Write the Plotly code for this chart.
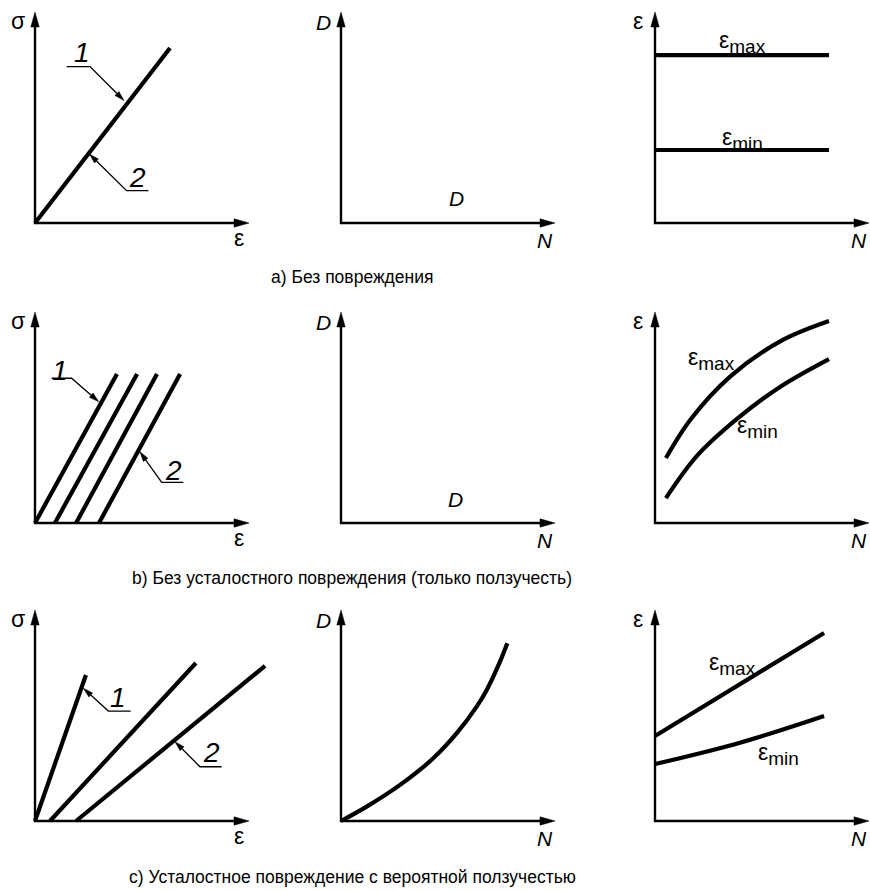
import math
import plotly.graph_objects as go

# ---------------- data (schematic units, origin = crossing of the axes) ----------------
# a) no damage
a_sigma_eps_x = [0, 6.31]
a_sigma_eps_y = [0, 8.29]
a_emax_N = [0, 8.13]
a_emax = [7.96, 7.96]
a_emin_N = [0, 8.13]
a_emin = [3.46, 3.46]

# b) creep only
b_loop_start = [0, 0.93, 1.92, 2.99]
b_loop_end = [3.83, 4.77, 5.70, 6.78]
b_loop_top = [7.06, 7.06, 7.06, 7.06]
b_emax_N = [0.51, 1.68, 3.55, 5.89, 8.13]
b_emax = [3.08, 4.93, 6.97, 8.63, 9.57]
b_emin_N = [0.51, 1.96, 3.83, 5.84, 8.13]
b_emin = [1.18, 3.18, 4.93, 6.45, 7.77]

# c) fatigue damage with creep
c_loop_start = [0, 0.70, 1.92]
c_loop_end = [2.38, 7.52, 10.75]
c_loop_top = [6.92, 7.49, 7.35]
c_D_N = [0, 1.20, 2.76, 4.31, 5.41, 6.34, 6.81, 7.43, 7.77]
c_D = [0, 0.68, 1.71, 2.97, 4.16, 5.42, 6.21, 7.55, 8.42]
c_emax_N = [0, 7.90]
c_emax = [4.03, 8.91]
c_emin_N = [0, 3.93, 7.90]
c_emin = [2.70, 3.70, 4.98]

captions = ["a) Без повреждения",
            "b) Без усталостного повреждения (только ползучесть)",
            "c) Усталостное повреждение с вероятной ползучестью"]

# ---------------- layout geometry ----------------
FIG_W, FIG_H = 870, 891
SX, SY = 21.4, 21.1          # px per unit
COL_X = [35, 341, 655]       # origin x (px)
ROW_Y = [223, 523, 821]      # origin y (px from top)
AX_X, AX_Y = 10.0, 10.0      # axis length in units
FONT = "Liberation Sans, Arial, sans-serif"
BLACK = "#000000"

fig = go.Figure()
annotations = []


def ax_id(r, c):
    k = r * 3 + c + 1
    return ("x" if k == 1 else f"x{k}"), ("y" if k == 1 else f"y{k}"), k


def head(tip_x, tip_y, from_x, from_y, length, half_w):
    dx = (tip_x - from_x) * SX
    dy = (tip_y - from_y) * SY
    d = math.hypot(dx, dy)
    ux, uy = dx / d, dy / d
    tx, ty = tip_x * SX, tip_y * SY
    bx, by = tx - ux * length, ty - uy * length
    px, py = -uy, ux
    pts = [(tx, ty), (bx + px * half_w, by + py * half_w), (bx - px * half_w, by - py * half_w), (tx, ty)]
    return [p[0] / SX for p in pts], [p[1] / SY for p in pts], (bx / SX, by / SY)


def add_line(xr, yr, xs, ys, width, shape="linear"):
    fig.add_trace(go.Scatter(x=xs, y=ys, mode="lines", xaxis=xr, yaxis=yr,
                             line=dict(color=BLACK, width=width, shape=shape, smoothing=1.0),
                             showlegend=False, hoverinfo="skip"))


def add_head(xr, yr, hx, hy):
    fig.add_trace(go.Scatter(x=hx, y=hy, mode="lines", fill="toself", fillcolor=BLACK,
                             xaxis=xr, yaxis=yr, line=dict(color=BLACK, width=0.5),
                             showlegend=False, hoverinfo="skip"))


def text(xr, yr, x, y, s, size=20, italic=False):
    annotations.append(dict(x=x, y=y, xref=xr, yref=yr, text=s, showarrow=False,
                            xanchor="center", yanchor="middle",
                            font=dict(family=FONT, size=size, color=BLACK,
                                      style="italic" if italic else "normal")))


def eps_label(xr, yr, x, y, sub):
    s = "ε<sub><span style='font-size:19px'>" + sub + "</span></sub>"
    text(xr, yr, x, y, s, 23)


def axes_frame(r, c, ylab, xlab, ylab_italic, xlab_italic):
    xr, yr, _ = ax_id(r, c)
    hyx, hyy, (byx, byy) = head(0, AX_Y, 0, 0, 15, 4.2)
    hxx, hxy, (bxx, bxy) = head(AX_X, 0, 0, 0, 15, 4.2)
    add_line(xr, yr, [byx, 0, bxx], [byy, 0, bxy], 2.4)
    add_head(xr, yr, hyx, hyy)
    add_head(xr, yr, hxx, hxy)
    ysize = 21 if ylab_italic else 23
    xsize = 21 if xlab_italic else 23
    text(xr, yr, -0.80, 9.50 if ylab_italic else 9.55, ylab, ysize, ylab_italic)
    text(xr, yr, 9.55, -0.82 if xlab_italic else -0.70, xlab, xsize, xlab_italic)


def callout(r, c, label, tx, ty, far_x, near_x, shelf_y, tip_x, tip_y):
    xr, yr, _ = ax_id(r, c)
    hx, hy, (bx, by) = head(tip_x, tip_y, near_x, shelf_y, 10, 2.8)
    add_line(xr, yr, [far_x, near_x, bx], [shelf_y, shelf_y, by], 1.3)
    add_head(xr, yr, hx, hy)
    text(xr, yr, tx, ty, label, 28, True)


# build the 9 coordinate systems
for r in range(3):
    for c in range(3):
        xr, yr, k = ax_id(r, c)
        ox, oy = COL_X[c], ROW_Y[r]
        left, right = 20, min(270, FIG_W - ox)
        below, above = 20, min(240, oy)
        xa = dict(domain=[(ox - left) / FIG_W, (ox + right) / FIG_W],
                  range=[-left / SX, right / SX], visible=False, anchor=yr, fixedrange=True)
        ya = dict(domain=[(FIG_H - oy - below) / FIG_H, (FIG_H - oy + above) / FIG_H],
                  range=[-below / SY, above / SY], visible=False, anchor=xr, fixedrange=True)
        fig.update_layout(**{("xaxis" if k == 1 else f"xaxis{k}"): xa,
                             ("yaxis" if k == 1 else f"yaxis{k}"): ya})

# ---- row a ----
axes_frame(0, 0, "σ", "ε", False, False)
xr, yr, _ = ax_id(0, 0)
add_line(xr, yr, a_sigma_eps_x, a_sigma_eps_y, 4.2)
callout(0, 0, "1", 2.20, 8.10, 1.48, 2.57, 7.41, 4.16, 5.80)
callout(0, 0, "2", 4.77, 2.18, 5.30, 4.28, 1.53, 2.54, 3.27)

axes_frame(0, 1, "D", "N", True, True)
xr, yr, _ = ax_id(0, 1)
text(xr, yr, 5.41, 1.14, "D", 21, True)

axes_frame(0, 2, "ε", "N", False, True)
xr, yr, _ = ax_id(0, 2)
add_line(xr, yr, a_emax_N, a_emax, 4.2)
add_line(xr, yr, a_emin_N, a_emin, 4.2)
eps_label(xr, yr, 4.07, 8.58, "max")
eps_label(xr, yr, 4.07, 3.98, "min")

# ---- row b ----
axes_frame(1, 0, "σ", "ε", False, False)
xr, yr, _ = ax_id(1, 0)
for x0, x1, y1 in zip(b_loop_start, b_loop_end, b_loop_top):
    add_line(xr, yr, [x0, x1], [0, y1], 4.2)
callout(1, 0, "1", 1.17, 7.25, 0.78, 1.71, 6.86, 2.98, 5.75)
callout(1, 0, "2", 6.45, 2.51, 6.93, 5.92, 1.93, 4.90, 3.38)

axes_frame(1, 1, "D", "N", True, True)
xr, yr, _ = ax_id(1, 1)
text(xr, yr, 5.35, 1.12, "D", 21, True)

axes_frame(1, 2, "ε", "N", False, True)
xr, yr, _ = ax_id(1, 2)
add_line(xr, yr, b_emax_N, b_emax, 4.2, "spline")
add_line(xr, yr, b_emin_N, b_emin, 4.2, "spline")
eps_label(xr, yr, 2.62, 7.77, "max")
eps_label(xr, yr, 4.81, 4.55, "min")

# ---- row c ----
axes_frame(2, 0, "σ", "ε", False, False)
xr, yr, _ = ax_id(2, 0)
for x0, x1, y1 in zip(c_loop_start, c_loop_end, c_loop_top):
    add_line(xr, yr, [x0, x1], [0, y1], 4.2)
callout(2, 0, "1", 3.88, 5.83, 4.47, 3.43, 5.21, 2.26, 6.29)
callout(2, 0, "2", 8.27, 3.27, 8.72, 7.71, 2.57, 6.54, 3.76)

axes_frame(2, 1, "D", "N", True, True)
xr, yr, _ = ax_id(2, 1)
add_line(xr, yr, c_D_N, c_D, 4.2, "spline")

axes_frame(2, 2, "ε", "N", False, True)
xr, yr, _ = ax_id(2, 2)
add_line(xr, yr, c_emax_N, c_emax, 4.2)
add_line(xr, yr, c_emin_N, c_emin, 4.2, "spline")
eps_label(xr, yr, 3.60, 7.44, "max")
eps_label(xr, yr, 5.79, 3.18, "min")

# ---- captions ----
for cap, ypx in zip(captions, [277, 578, 877]):
    annotations.append(dict(x=352 / FIG_W, y=1 - ypx / FIG_H, xref="paper", yref="paper",
                            text=cap, showarrow=False, xanchor="center", yanchor="middle",
                            font=dict(family=FONT, size=17.5, color=BLACK)))

fig.update_layout(width=FIG_W, height=FIG_H, margin=dict(l=0, r=0, t=0, b=0),
                  paper_bgcolor="white", plot_bgcolor="white", showlegend=False,
                  annotations=annotations, hovermode=False)

fig.write_html("out.html", config={"displayModeBar": False},
               post_script="document.body.style.margin='0';document.body.style.overflow='hidden';")
